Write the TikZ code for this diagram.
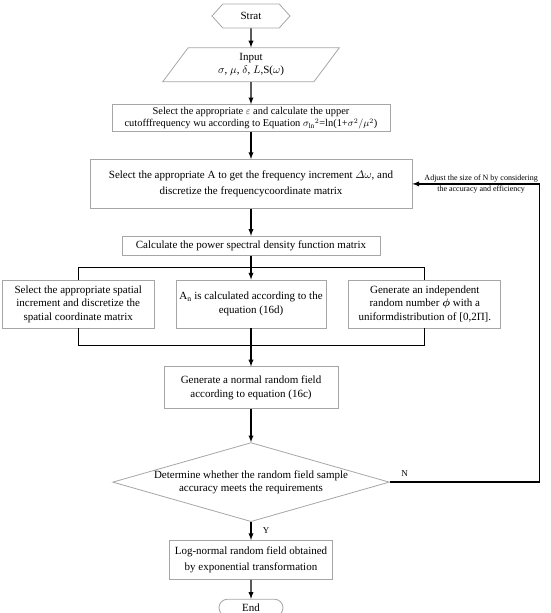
\documentclass[tikz,border=0pt]{standalone}
\usepackage{fontspec}
\setmainfont{Liberation Serif}
\usepackage{amssymb,amsmath}
\usetikzlibrary{arrows,positioning,calc,shapes.geometric,shapes.symbols,shapes.misc}

\begin{document}
\begin{tikzpicture}
[every node/.style={font=\fontsize{11}{13.5}\selectfont},
 box/.style={rectangle,draw=black!35,line width=0.8pt,align=center,inner sep=1.5pt},
 conn/.style={line width=1.3pt,-latex}]

\useasboundingbox (0,0) rectangle (550pt,-613pt);

% main column
\node[box,signal,signal to=east and west,signal pointer angle=96,minimum width=78pt,minimum height=24pt,inner sep=0pt] (St) at (251pt,-16pt) {Strat};
\node[box,trapezium,trapezium left angle=60,trapezium right angle=120,trapezium stretches=true,minimum width=177pt,minimum height=34pt,inner sep=0pt,below=19pt of St] (In) {Input\\ $\sigma$, $\mu$, $\delta$, $L$,S($\omega$)};
\node[box,minimum width=278pt,minimum height=27pt,inner sep=0pt,below=22pt of In,font=\fontsize{10.4}{12.5}\selectfont] (Se) {Select the appropriate $\varepsilon$ and calculate the upper\\ cutofffrequency wu according to Equation $\sigma_{\mathrm{ln}}{}^{2}$=ln(1+$\sigma^{2}/\mu^{2}$)};
\node[box,minimum width=322pt,minimum height=49pt,below=27pt of Se] (Sa) {Select the appropriate A to get the frequency increment $\varDelta\omega$, and\\[2pt] discretize the frequencycoordinate matrix};
\node[box,minimum width=258pt,minimum height=19pt,below=27pt of Sa] (Ps) {Calculate the power spectral density function matrix};
\node[box,minimum width=150pt,minimum height=48pt,below=24pt of Ps] (An) {A\textsubscript{n} is calculated according to the\\ equation (16d)};
\node[box,minimum width=152pt,minimum height=48pt,left=21pt of An] (Sp) {Select the appropriate spatial\\ increment and discretize the\\ spatial coordinate matrix};
\node[box,minimum width=152pt,minimum height=48pt,right=22pt of An] (Ph) {Generate an independent\\ random number $\boldsymbol{\phi}$ with a\\ uniformdistribution of [0,2Π].};
\node[box,minimum width=174pt,minimum height=42pt,below=38pt of An] (Nr) {Generate a normal random field\\ according to equation (16c)};
\node[box,diamond,aspect=3.5,minimum width=276pt,minimum height=79pt,inner sep=0pt,below=33pt of Nr] (Dj) {Determine whether the random field sample\\ accuracy meets the requirements};
\node[box,minimum width=163pt,minimum height=39pt,below=18pt of Dj] (Ln) {Log-normal random field obtained\\[2pt] by exponential transformation};
\node[box,rounded rectangle,minimum width=64pt,minimum height=17pt,inner sep=0pt,below=19pt of Ln] (En) {End};

% connectors
\draw[conn] (St) -- (In);
\draw[conn] (In) -- (Se);
\draw[conn] (Se) -- (Sa);
\draw[conn] (Sa) -- (Ps);
\draw[conn] (Ps) -- (An);
\draw[conn,-] (Sp.north) |- ($(Ps.south)!0.5!(An.north)$) -| (Ph.north);
\draw[conn,-] (Sp.south) |- ($(An.south)!0.45!(Nr.north)$) -| (Ph.south);
\draw[conn] (An) -- (Nr);
\draw[conn] (Nr) -- (Dj);
\draw[conn] (Dj) -- node[right=8pt,font=\fontsize{9}{11}\selectfont]{Y} (Ln);
\draw[conn] (Ln) -- (En);
\draw[conn] (Dj.east) -- node[pos=0.1,above=2pt,font=\fontsize{9}{11}\selectfont]{N} ++(150pt,0) |- node[pos=0.73,align=center,inner sep=0pt,font=\fontsize{8}{11}\selectfont]{Adjust the size of N by considering\\ the accuracy and efficiency} (Sa.east);
\end{tikzpicture}
\end{document}
